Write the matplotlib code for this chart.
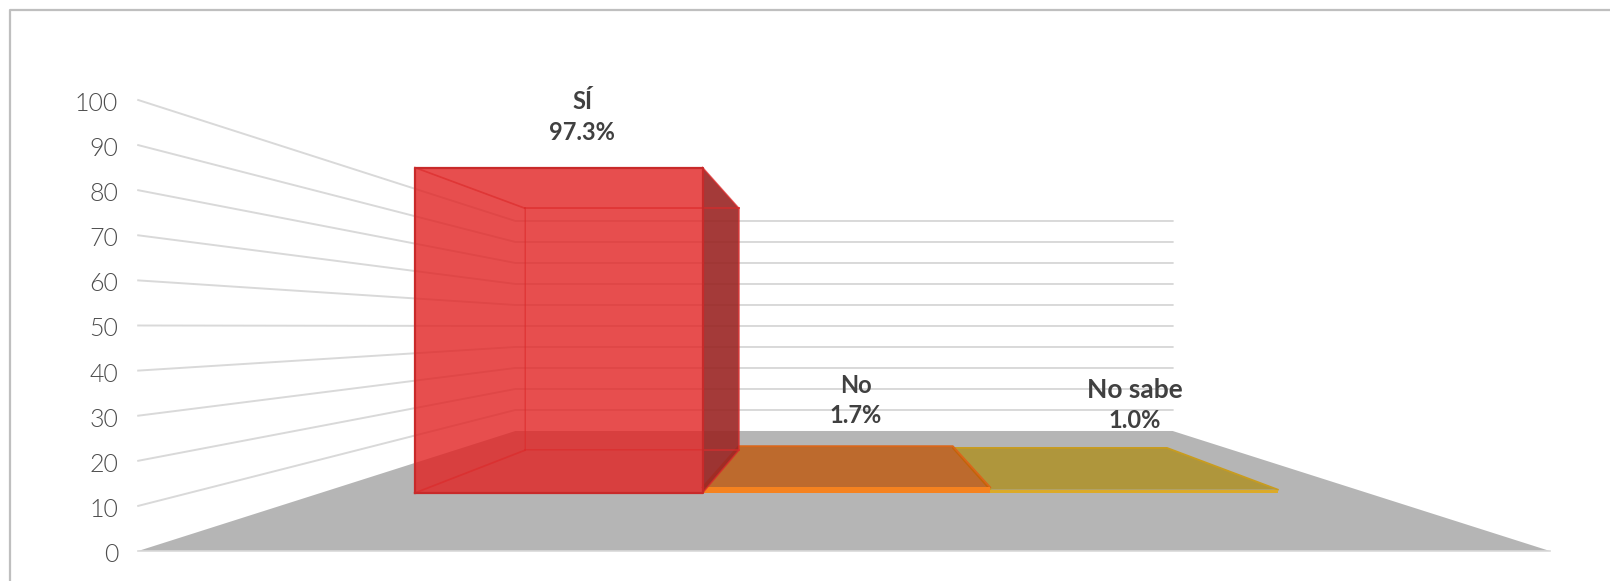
import matplotlib
matplotlib.use("Agg")
import matplotlib.pyplot as plt
from matplotlib.patches import Polygon

# CHART DATA
CATEGORIES = ["SÍ", "No", "No sabe"]
VALUES = [97.3, 1.7, 1.0]
VALUE_LABELS = ["97.3%", "1.7%", "1.0%"]
AXIS_TICKS = [0, 10, 20, 30, 40, 50, 60, 70, 80, 90, 100]

# 3D VIEW (pixels per unit at the front and back of the floor)
CENTER_X = 844
HORIZON_Y = 326.4
EYE_HEIGHT = 49.8
SCALE_FRONT = 4.51
SCALE_BACK = 2.10
FLOOR_HALF_WIDTH = 156.5
BAR_SCALE_FRONT = 3.345
BAR_SCALE_BACK = 2.49
BAR_LEFT = -128.3
BAR_WIDTH = 86.0

FONT_COLOR = "#404040"
GRID_COLOR = "#d9d9d9"
FLOOR_COLOR = "#b5b5b5"
LABEL_POS = [(582, 101.5, 132.5), (856, 385.5, 415.5), (1135, 390.5, 420.5)]
NAME_SIZES = [17, 17, 19]

# top, edge, strip colours for the flat bars, red is handled on its own
BAR_STYLE = [None,
             ((192 / 255, 81 / 255, 0, 0.75), "#d9661a", "#f5821f"),
             ((173 / 255, 140 / 255, 19 / 255, 0.75), "#c89c20", "#dcaa28")]


def project(u, v, s):
    # u across the floor, v is the value, s the scale for that depth
    return CENTER_X + u * s, HORIZON_Y + s * (EYE_HEIGHT - v)


def face(ax, pts, color, alpha=None, edge="none", lw=0.0, z=3):
    ax.add_patch(Polygon(pts, closed=True, facecolor=color, alpha=alpha, edgecolor=edge,
                         linewidth=lw, zorder=z, joinstyle="round"))


def main():
    plt.rcParams['font.family'] = ['Lato', 'DejaVu Sans']
    fig = plt.figure(figsize=(16.1, 5.81), dpi=100)
    ax = fig.add_axes([0, 0, 1, 1])
    ax.set_xlim(0, 1610)
    ax.set_ylim(581, 0)
    ax.axis("off")

    # outer frame, cut by the picture on the right and bottom
    ax.plot([10, 10, 1610], [581, 10, 10], color="#bfbfbf", lw=1.6, zorder=1)

    # floor
    u = FLOOR_HALF_WIDTH
    floor = [project(-u, 0, SCALE_FRONT), project(u, 0, SCALE_FRONT),
             project(u, 0, SCALE_BACK), project(-u, 0, SCALE_BACK)]
    face(ax, floor, FLOOR_COLOR, z=2)
    ax.plot([floor[0][0], floor[1][0]], [floor[0][1] + 0.5, floor[1][1] + 0.5], color=GRID_COLOR, lw=1.2, zorder=2)

    # grid on side wall and back wall
    for tick in AXIS_TICKS:
        x0, y0 = project(-u, tick, SCALE_FRONT)
        x1, y1 = project(-u, tick, SCALE_BACK)
        x2, y2 = project(u, tick, SCALE_BACK)
        if tick > 0:
            ax.plot([x0, x1, x2], [y0, y1, y2], color=GRID_COLOR, lw=1.4, zorder=2)
        ax.text(x0 - 20, y0 + 1.5, str(tick), ha="right", va="center_baseline", fontsize=18,
                color="#4d4d4d", fontweight=300)

    # flat bars first, red box goes on top of them
    for i in [2, 1]:
        left = BAR_LEFT + i * BAR_WIDTH
        right = left + BAR_WIDTH
        top_color, edge, strip = BAR_STYLE[i]
        top = [project(left, VALUES[i], BAR_SCALE_FRONT), project(right, VALUES[i], BAR_SCALE_FRONT),
               project(right, VALUES[i], BAR_SCALE_BACK), project(left, VALUES[i], BAR_SCALE_BACK)]
        front = [project(left, 0, BAR_SCALE_FRONT), project(right, 0, BAR_SCALE_FRONT),
                 top[1], top[0]]
        face(ax, top, top_color, z=3)
        ax.plot(*zip(top[0], top[3], top[2], top[1]), color=edge, lw=1.3, zorder=3)
        face(ax, front, strip, z=3)

    # red box, see-through faces
    left = BAR_LEFT
    right = left + BAR_WIDTH
    v = VALUES[0]
    red = "#e22222"
    fbl = project(left, 0, BAR_SCALE_FRONT)
    fbr = project(right, 0, BAR_SCALE_FRONT)
    ftl = project(left, v, BAR_SCALE_FRONT)
    ftr = project(right, v, BAR_SCALE_FRONT)
    bbl = project(left, 0, BAR_SCALE_BACK)
    bbr = project(right, 0, BAR_SCALE_BACK)
    btl = project(left, v, BAR_SCALE_BACK)
    btr = project(right, v, BAR_SCALE_BACK)
    for pts in ([bbl, bbr, btr, btl], [fbl, bbl, btl, ftl], [ftl, ftr, btr, btl], [fbl, fbr, bbr, bbl]):
        face(ax, pts, red, alpha=0.55, z=4)
    face(ax, [fbr, bbr, btr, ftr], "#912826", alpha=0.8, z=5)
    face(ax, [fbl, fbr, ftr, ftl], red, alpha=0.55, z=6)
    for p, q in ((bbl, bbr), (bbl, btl), (btl, btr), (bbr, btr), (fbl, bbl), (ftl, btl), (ftr, btr), (fbr, bbr)):
        ax.plot([p[0], q[0]], [p[1], q[1]], color="#dc2a2a", lw=1.2, alpha=0.7, zorder=6)
    ax.plot(*zip(fbl, fbr, ftr, ftl, fbl), color="#c82a2a", lw=1.6, zorder=7)

    # data labels
    for name, val, size, (x, y1, y2) in zip(CATEGORIES, VALUE_LABELS, NAME_SIZES, LABEL_POS):
        ax.text(x, y1, name, ha="center", va="center", fontsize=size, fontweight="bold", color=FONT_COLOR, zorder=8)
        ax.text(x, y2, val, ha="center", va="center", fontsize=17, fontweight="bold", color=FONT_COLOR, zorder=8)

    fig.savefig("out.png", dpi=100)


if __name__ == "__main__":
    main()
